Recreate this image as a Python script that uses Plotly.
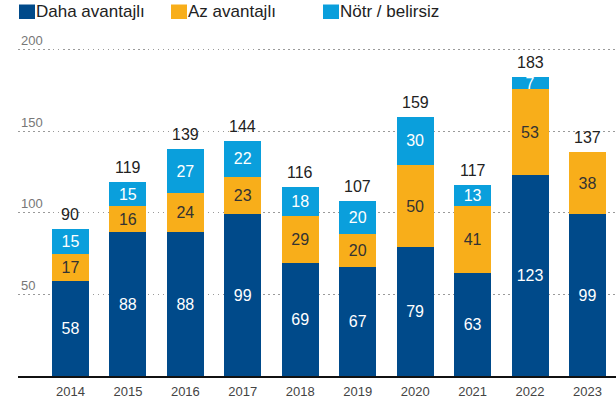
import plotly.graph_objects as go

years = ["2014", "2015", "2016", "2017", "2018", "2019", "2020", "2021", "2022", "2023"]
daha = [58, 88, 88, 99, 69, 67, 79, 63, 123, 99]
az = [17, 16, 24, 23, 29, 20, 50, 41, 53, 38]
notr = [15, 15, 27, 22, 18, 20, 30, 13, 7, 0]
totals = [90, 119, 139, 144, 116, 107, 159, 117, 183, 137]
y_ticks = [50, 100, 150, 200]
series_names = ["Daha avantajlı", "Az avantajlı", "Nötr / belirsiz"]
series_colors = ["#004a8a", "#f8ae1a", "#0a9fdc"]
label_colors = ["white", "#333333", "white"]

x = list(range(len(years)))
FONT = "Liberation Sans, Arial, sans-serif"

W, H = 616, 400
ML, MR, MT, MB = 18, 0, 30, 24
PW, PH = W - ML - MR, H - MT - MB

def px_x(p):
    return (p - ML) / PW

def px_y(p):
    return (H - MB - p) / PH

def labels(vals):
    return [str(v) if v > 0 else "" for v in vals]

fig = go.Figure()
for name, vals, col, tcol in zip(series_names, [daha, az, notr], series_colors, label_colors):
    fig.add_trace(go.Bar(
        x=x, y=vals, name=name, marker=dict(color=col, line=dict(width=0)),
        width=0.645, text=labels(vals), textposition="inside",
        insidetextanchor="middle", textangle=0,
        textfont=dict(color=tcol, size=16, family=FONT),
        hoverinfo="skip", showlegend=False,
    ))

annotations = []
# totals above bars
for xi, t in zip(x, totals):
    annotations.append(dict(x=xi, y=t, xref="x", yref="y", text=str(t), showarrow=False,
                            xanchor="center", yanchor="bottom", yshift=5, borderpad=0,
                            font=dict(size=16, color="#222222", family=FONT)))

# manual legend (squares + labels) placed in paper coordinates
legend_x = [19, 171, 323]
shapes = []
for lx, name, col in zip(legend_x, series_names, series_colors):
    shapes.append(dict(type="rect", xref="paper", yref="paper",
                       x0=px_x(lx), x1=px_x(lx + 16), y0=px_y(19), y1=px_y(4.5),
                       fillcolor=col, line=dict(width=0), layer="above"))
    annotations.append(dict(xref="paper", yref="paper", x=px_x(lx + 16), y=px_y(11.5),
                            xanchor="left", yanchor="middle", text=name, showarrow=False,
                            font=dict(size=17, color="#222222", family=FONT), borderpad=0))

fig.update_layout(
    barmode="stack",
    width=W, height=H,
    margin=dict(l=ML, r=MR, t=MT, b=MB, autoexpand=False),
    paper_bgcolor="white", plot_bgcolor="white",
    font=dict(family=FONT, color="#333333"),
    uniformtext=dict(minsize=16, mode="show"),
    showlegend=False,
    shapes=shapes,
    annotations=annotations,
    xaxis=dict(
        range=[-0.913, 9.496], tickmode="array", tickvals=x, ticktext=years,
        showgrid=False, zeroline=False, showline=True, linecolor="#111111", linewidth=1.5,
        ticks="", tickfont=dict(size=13, color="#444444"), ticklabelstandoff=3,
        fixedrange=True,
    ),
    yaxis=dict(
        range=[0, 212], tickmode="array", tickvals=y_ticks,
        ticklabelposition="inside top", tickfont=dict(size=13, color="#777777"),
        showgrid=True, gridcolor="#9a9a9a", griddash="1.5px,3.5px", gridwidth=1.2,
        zeroline=False, showline=False, ticks="", fixedrange=True,
    ),
)

fig.write_html("out.html", config={"displayModeBar": False},
               post_script="document.body.style.margin='0';")
